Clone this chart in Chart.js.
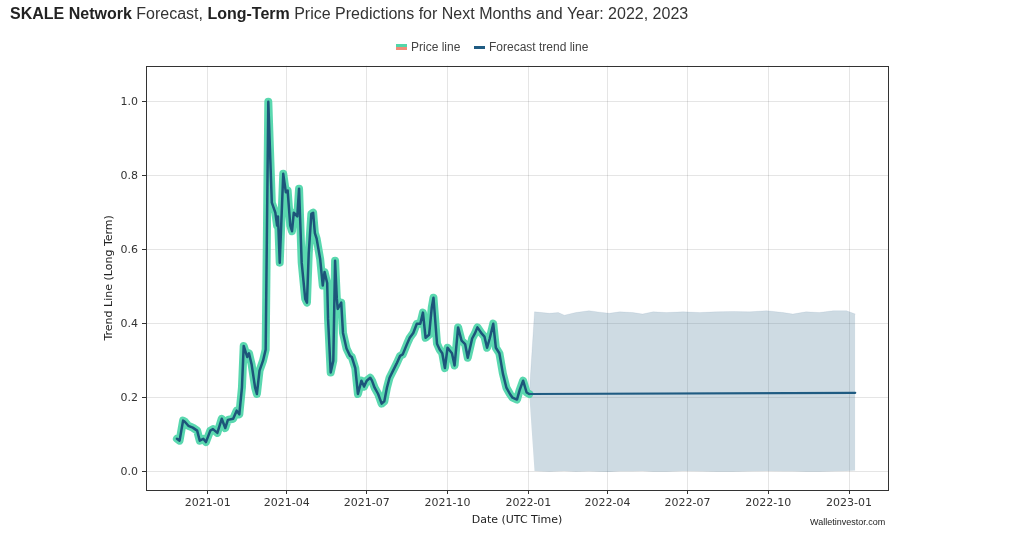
<!DOCTYPE html>
<html>
<head>
<meta charset="utf-8">
<script src="https://cdn.jsdelivr.net/npm/chart.js@4.4.1/dist/chart.umd.min.js"></script>
<style>
  html, body { margin: 0; padding: 0; background: #fff; }
  #wrap { position: relative; width: 1009px; height: 534px; overflow: hidden; }
  #chart { position: absolute; left: 0; top: 0; }
  #title { position: absolute; left: 10px; top: 5px; font: 16px "Liberation Sans", Arial, sans-serif; color: #333; white-space: nowrap; }
  #title b { color: #222; }
  #credit { position: absolute; left: 810px; top: 517px; font: 9px "Liberation Sans", Arial, sans-serif; color: #222; }
</style>
</head>
<body>
<div id="wrap">
  <canvas id="chart" width="1009" height="534"></canvas>
  <div id="title"><b>SKALE Network</b> Forecast, <b>Long-Term</b> Price Predictions for Next Months and Year: 2022, 2023</div>
  <div id="credit">Walletinvestor.com</div>
</div>
<script>
// price history
const priceDates = [
    '2020-11-27', '2020-11-30', '2020-12-04', '2020-12-06', '2020-12-10', '2020-12-15', '2020-12-20', '2020-12-23',
    '2020-12-27', '2020-12-30', '2021-01-04', '2021-01-07', '2021-01-12', '2021-01-17', '2021-01-21', '2021-01-24',
    '2021-01-30', '2021-02-03', '2021-02-06', '2021-02-09', '2021-02-11', '2021-02-15', '2021-02-17', '2021-02-20',
    '2021-02-24', '2021-02-26', '2021-03-01', '2021-03-05', '2021-03-08', '2021-03-11', '2021-03-15', '2021-03-19',
    '2021-03-21', '2021-03-22', '2021-03-24', '2021-03-28', '2021-03-31', '2021-04-02', '2021-04-05', '2021-04-07',
    '2021-04-09', '2021-04-13', '2021-04-15', '2021-04-18', '2021-04-22', '2021-04-24', '2021-04-26', '2021-04-29',
    '2021-05-01', '2021-05-03', '2021-05-05', '2021-05-09', '2021-05-12', '2021-05-14', '2021-05-17', '2021-05-18',
    '2021-05-21', '2021-05-24', '2021-05-26', '2021-05-28', '2021-05-29', '2021-06-02', '2021-06-04', '2021-06-08',
    '2021-06-12', '2021-06-14', '2021-06-18', '2021-06-21', '2021-06-25', '2021-06-28', '2021-07-01', '2021-07-05',
    '2021-07-07', '2021-07-10', '2021-07-14', '2021-07-18', '2021-07-21', '2021-07-24', '2021-07-27', '2021-07-31',
    '2021-08-04', '2021-08-08', '2021-08-11', '2021-08-16', '2021-08-19', '2021-08-23', '2021-08-27', '2021-08-31',
    '2021-09-03', '2021-09-06', '2021-09-10', '2021-09-13', '2021-09-15', '2021-09-19', '2021-09-22', '2021-09-25',
    '2021-09-28', '2021-10-01', '2021-10-06', '2021-10-09', '2021-10-13', '2021-10-17', '2021-10-21', '2021-10-24',
    '2021-10-29', '2021-11-01', '2021-11-04', '2021-11-09', '2021-11-12', '2021-11-15', '2021-11-18', '2021-11-22',
    '2021-11-25', '2021-11-29', '2021-12-03', '2021-12-07', '2021-12-11', '2021-12-14', '2021-12-19', '2021-12-22',
    '2021-12-26', '2021-12-30', '2022-01-02'
];
const priceValues = [
    0.089, 0.084, 0.138, 0.135, 0.124, 0.119, 0.111, 0.084,
    0.089, 0.080, 0.111, 0.115, 0.105, 0.143, 0.118, 0.140,
    0.143, 0.165, 0.155, 0.227, 0.340, 0.310, 0.320, 0.290,
    0.227, 0.210, 0.273, 0.300, 0.330, 1.000, 0.727, 0.700,
    0.665, 0.690, 0.565, 0.805, 0.755, 0.760, 0.665, 0.650,
    0.700, 0.690, 0.765, 0.565, 0.467, 0.457, 0.590, 0.697,
    0.700, 0.645, 0.630, 0.575, 0.503, 0.540, 0.510, 0.413,
    0.268, 0.300, 0.570, 0.467, 0.440, 0.457, 0.375, 0.333,
    0.313, 0.310, 0.280, 0.210, 0.246, 0.230, 0.246, 0.254,
    0.246, 0.227, 0.210, 0.184, 0.190, 0.227, 0.254, 0.273,
    0.292, 0.313, 0.317, 0.346, 0.362, 0.375, 0.400, 0.400,
    0.430, 0.362, 0.370, 0.443, 0.470, 0.346, 0.330, 0.320,
    0.280, 0.335, 0.320, 0.287, 0.390, 0.354, 0.345, 0.308,
    0.360, 0.373, 0.390, 0.373, 0.365, 0.335, 0.360, 0.400,
    0.335, 0.320, 0.265, 0.227, 0.210, 0.200, 0.195, 0.220,
    0.246, 0.214, 0.210
];

// forecast trend line and its band
const forecastDates = ['2022-01-02', '2023-01-08'];
const forecastValues = [0.210, 0.213];

const bandDates = [
    '2022-01-02', '2022-01-08', '2022-01-25', '2022-02-04', '2022-02-11', '2022-02-24', '2022-03-11', '2022-03-23',
    '2022-04-03', '2022-04-15', '2022-04-30', '2022-05-11', '2022-05-23', '2022-06-07', '2022-06-26', '2022-07-15',
    '2022-08-03', '2022-08-22', '2022-09-10', '2022-09-29', '2022-10-18', '2022-10-29', '2022-11-13', '2022-11-28',
    '2022-12-14', '2022-12-29', '2023-01-08'
];
const bandUpper = [
    0.210, 0.432, 0.428, 0.430, 0.423, 0.430, 0.435, 0.431,
    0.428, 0.432, 0.430, 0.426, 0.432, 0.430, 0.432, 0.430,
    0.432, 0.433, 0.432, 0.435, 0.430, 0.426, 0.432, 0.430,
    0.435, 0.435, 0.426
];
const bandLower = [
    0.210, 0.002, 0.000, 0.001, 0.002, 0.000, 0.001, 0.000,
    -0.001, 0.001, 0.001, 0.002, 0.000, 0.000, 0.002, 0.001,
    0.000, 0.000, 0.001, 0.002, 0.001, 0.001, 0.000, 0.000,
    0.001, 0.002, 0.003
];

const xTickLabels = ['2021-01', '2021-04', '2021-07', '2021-10', '2022-01', '2022-04', '2022-07', '2022-10', '2023-01'];
const yTicks = [0.0, 0.2, 0.4, 0.6, 0.8, 1.0];

const GREEN = '#52d6a9';
const DARK = '#1d557a';
const TREND = '#1f5b82';

// days since 2021-01-01, used as the x value
const origin = Date.parse('2021-01-01T00:00:00Z');
function dayOf(s) {
    return (Date.parse(s + 'T00:00:00Z') - origin) / 86400000;
}
function toPoints(dates, values) {
    return dates.map((d, i) => ({ x: dayOf(d), y: values[i] }));
}

const pricePoints = toPoints(priceDates, priceValues);

// spines, legend and axis titles
const decor = {
    id: 'decor',
    afterDatasetsDraw(chart) {
        const { ctx, chartArea: a } = chart;
        ctx.save();
        ctx.strokeStyle = '#333';
        ctx.lineWidth = 1;
        ctx.strokeRect(Math.round(a.left) + 0.5, Math.round(a.top) + 0.5, Math.round(a.right - a.left), Math.round(a.bottom - a.top));
        ctx.restore();
    },
    afterDraw(chart) {
        const { ctx, chartArea: a } = chart;
        ctx.save();
        // legend
        ctx.fillStyle = GREEN;
        ctx.fillRect(396, 44, 11, 3);
        ctx.fillStyle = '#f08c78';
        ctx.fillRect(396, 47, 11, 3);
        ctx.fillStyle = TREND;
        ctx.fillRect(474, 46, 11, 3);
        ctx.font = '12px "Liberation Sans", Arial, sans-serif';
        ctx.fillStyle = '#444';
        ctx.textBaseline = 'middle';
        ctx.fillText('Price line', 411, 48);
        ctx.fillText('Forecast trend line', 489, 48);
        // axis titles
        ctx.font = '11px "DejaVu Sans", sans-serif';
        ctx.fillStyle = '#222';
        ctx.textAlign = 'center';
        ctx.fillText('Date (UTC Time)', (a.left + a.right) / 2, 520);
        ctx.translate(109, (a.top + a.bottom) / 2);
        ctx.rotate(-Math.PI / 2);
        ctx.fillText('Trend Line (Long Term)', 0, 0);
        ctx.restore();
    }
};

const ctx = document.getElementById('chart').getContext('2d');
const skaleChart = new Chart(ctx, {
    type: 'line',
    data: {
        datasets: [
            {
                label: 'band low',
                data: toPoints(bandDates, bandLower),
                borderWidth: 0,
                fill: false,
                order: 5
            },
            {
                label: 'band high',
                data: toPoints(bandDates, bandUpper),
                borderWidth: 0.8,
                borderColor: 'rgba(60,110,145,0.12)',
                backgroundColor: 'rgba(60,110,145,0.25)',
                fill: '-1',
                order: 5
            },
            {
                label: 'Price line',
                data: pricePoints,
                borderColor: 'rgba(72,212,166,0.9)',
                borderWidth: 8,
                order: 3
            },
            {
                label: 'Price core',
                data: pricePoints,
                borderColor: DARK,
                borderWidth: 2.5,
                order: 2
            },
            {
                label: 'Forecast trend line',
                data: toPoints(forecastDates, forecastValues),
                borderColor: TREND,
                borderWidth: 2.2,
                order: 1
            }
        ]
    },
    options: {
        responsive: false,
        animation: false,
        layout: {
            padding: { top: 65.7, right: 121, left: 0, bottom: 0 }
        },
        elements: {
            line: { tension: 0, borderJoinStyle: 'round', borderCapStyle: 'round' },
            point: { radius: 0 }
        },
        plugins: {
            legend: { display: false },
            tooltip: { enabled: false }
        },
        scales: {
            x: {
                type: 'linear',
                min: -70.2,
                max: 774.3,
                afterFit: function(scale) { scale.height = 44; },
                afterBuildTicks: function(scale) {
                    scale.ticks = xTickLabels.map(l => ({ value: dayOf(l + '-01') }));
                },
                ticks: {
                    callback: (v, i) => xTickLabels[i],
                    font: { family: 'DejaVu Sans', size: 11 },
                    color: '#333',
                    padding: 3,
                    maxRotation: 0,
                    autoSkip: false
                },
                grid: { color: 'rgba(0,0,0,0.1)', tickColor: '#333', tickLength: 4 },
                border: { display: false }
            },
            y: {
                min: -0.0495,
                max: 1.0973,
                afterFit: function(scale) { scale.width = 146; },
                afterBuildTicks: function(scale) {
                    scale.ticks = yTicks.map(v => ({ value: v }));
                },
                ticks: {
                    callback: v => v.toFixed(1),
                    font: { family: 'DejaVu Sans', size: 11 },
                    color: '#333',
                    padding: 4
                },
                grid: { color: 'rgba(0,0,0,0.1)', tickColor: '#333', tickLength: 4 },
                border: { display: false }
            }
        }
    },
    plugins: [decor]
});
</script>
</body>
</html>
